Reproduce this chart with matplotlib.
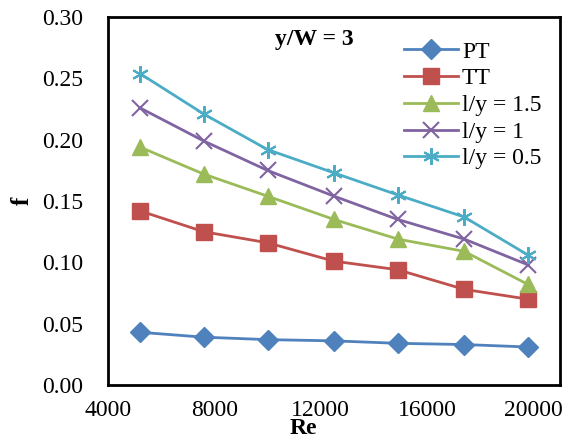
import matplotlib.pyplot as plt

re = [5200, 7600, 10000, 12500, 14900, 17400, 19800]

f_pt = [0.043, 0.039, 0.037, 0.036, 0.034, 0.033, 0.031]
f_tt = [0.142, 0.125, 0.116, 0.101, 0.094, 0.078, 0.070]
f_15 = [0.194, 0.172, 0.154, 0.135, 0.119, 0.109, 0.082]
f_10 = [0.226, 0.199, 0.175, 0.154, 0.135, 0.119, 0.098]
f_05 = [0.254, 0.221, 0.192, 0.173, 0.155, 0.137, 0.106]

labels = ["PT", "TT", "l/y = 1.5", "l/y = 1", "l/y = 0.5"]

plt.rcParams['font.family'] = ['Liberation Serif', 'DejaVu Serif']

fig = plt.figure(figsize=(5.69, 4.4), dpi=100)
ax = fig.add_axes([0.19, 0.125, 0.794, 0.836])

ax.plot(re, f_pt, color="#4F81BD", marker="D", ms=10, lw=2, label=labels[0])
ax.plot(re, f_tt, color="#C0504D", marker="s", ms=12, lw=2, label=labels[1])
ax.plot(re, f_15, color="#9BBB59", marker="^", ms=12, lw=2, label=labels[2])
ax.plot(re, f_10, color="#8064A2", marker="x", ms=11, mew=1.5, lw=2, label=labels[3])
ax.plot(re, f_05, color="#4BACC6", marker=(6, 2, 0), ms=12, mew=1.5, lw=2, label=labels[4])

ax.set_xlim(4000, 21000)
ax.set_ylim(0, 0.30)
ax.set_xticks([4000, 8000, 12000, 16000, 20000])
ax.set_yticks([0.00, 0.05, 0.10, 0.15, 0.20, 0.25, 0.30])
ax.set_yticklabels([f"{v:.2f}" for v in ax.get_yticks()])
ax.tick_params(length=0, labelsize=17)
ax.tick_params(axis="y", pad=18)
ax.tick_params(axis="x", pad=11)
for s in ax.spines.values():
    s.set_linewidth(2)

# axis titles placed like the original (Re sits left of centre, near the bottom)
fig.text(303 / 569, 1 - 428 / 440, "Re", fontsize=17, fontweight="bold",
         ha="center", va="center")
fig.text(22 / 569, 1 - 201 / 440, "f", fontsize=18, fontweight="bold",
         ha="center", va="center", rotation=90)
fig.text(314 / 569, 1 - 39 / 440, "y/W = 3", fontsize=17,
         fontweight="bold", ha="center", va="center")

ax.legend(loc="upper left", bbox_to_anchor=(0.655, 0.935), frameon=False,
          fontsize=17, handlelength=2.3, handletextpad=0.15, labelspacing=0.22,
          borderaxespad=0, borderpad=0)

fig.savefig("out.png", dpi=100)
